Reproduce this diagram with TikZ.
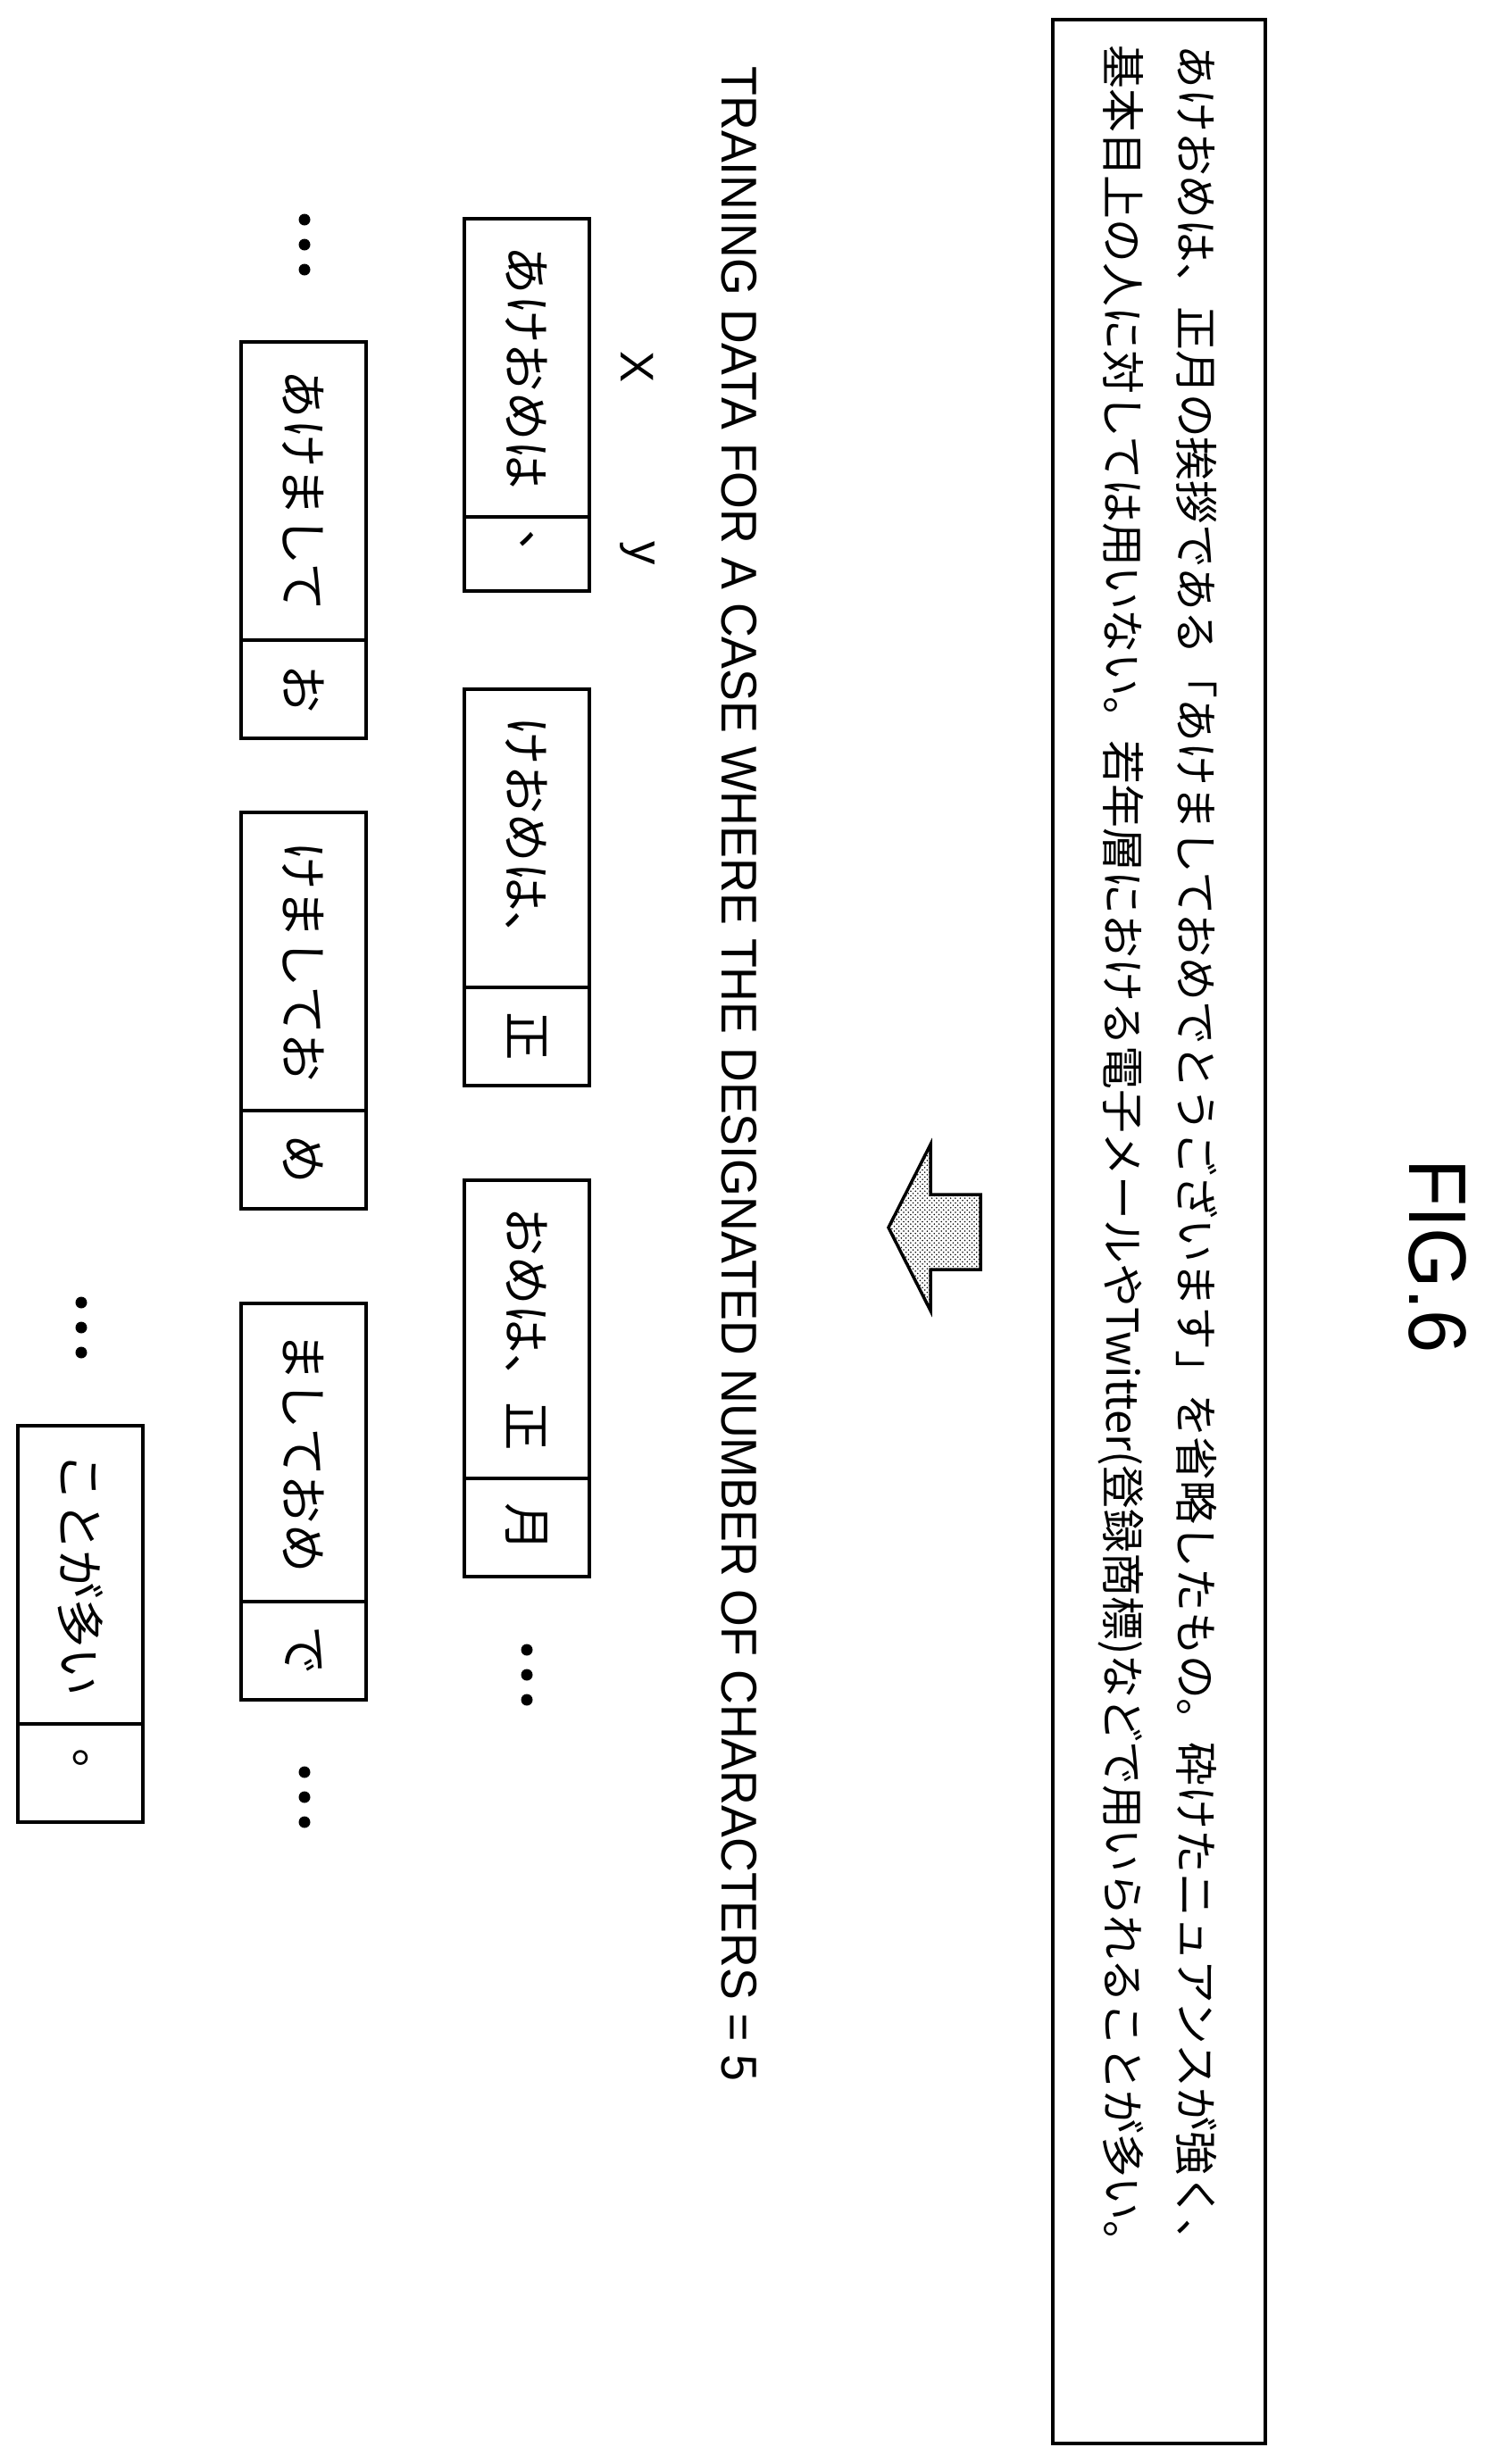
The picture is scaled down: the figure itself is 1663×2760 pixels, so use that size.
\documentclass[tikz,border=0pt]{standalone}
\usepackage{fontspec}
\setmainfont{Liberation Sans}
\newfontfamily\jpfont{Noto Sans CJK JP}
\usetikzlibrary{patterns}

\tikzset{
  cellx/.style={draw, line width=2.3pt, rotate=-90, anchor=west, inner sep=0pt, outer sep=0pt,
    minimum height=2.8cm, minimum width=6.68cm, font=\jpfont\fontsize{31}{31}\selectfont},
  celly/.style={cellx, minimum width=2.2cm},
  pairlabel/.style={rotate=-90, font=\fontsize{30}{30}\selectfont}
}

\begin{document}
\begin{tikzpicture}[x=0.02cm, y=-0.02cm]
    \useasboundingbox (0,0) rectangle (1663,2760);

    % Title
    \node[rotate=-90, font=\fontsize{52}{52}\selectfont, xscale=0.95] (title) at (1610,1407) {FIG.6};

    % Source sentence
    \draw[line width=2.6pt] (1179,22) rectangle (1417,2737);
    \node[rotate=-90, anchor=west, font=\jpfont\fontsize{27.8}{27.8}\selectfont, inner sep=0pt] (line1) at (1340,50)
        {あけおめは、正月の挨拶である「あけましておめでとうございます」を省略したもの。砕けたニュアンスが強く、};
    \node[rotate=-90, anchor=west, font=\jpfont\fontsize{27.8}{27.8}\selectfont, inner sep=0pt] (line2) at (1255,50)
        {基本目上の人に対しては用いない。若年層における電子メールやTwitter(登録商標)などで用いられることが多い。};

    % Hollow arrow
    \draw[line width=2pt, pattern=crosshatch dots] (995,1375) -- (1042,1282) -- (1042,1338) -- (1098,1338)
        -- (1098,1422) -- (1042,1422) -- (1042,1468) -- cycle;

    % Caption of the training data
    \node[rotate=-90, font=\fontsize{32}{32}\selectfont, xscale=0.955] (caption) at (828,1203)
        {TRAINING DATA FOR A CASE WHERE THE DESIGNATED NUMBER OF CHARACTERS = 5};
    \node[pairlabel] (labx) at (714,411) {X};
    \node[pairlabel] (laby) at (714,620) {y};

    % First column of pairs
    \node[cellx] (p1x) at (590,245) {あけおめは};
    \node[celly, minimum width=1.66cm] (p1y) at (p1x.east) {、};
    \node[cellx] (p2x) at (590,772) {けおめは、};
    \node[celly] (p2y) at (p2x.east) {正};
    \node[cellx] (p3x) at (590,1322) {おめは、正};
    \node[celly] (p3y) at (p3x.east) {月};

    % Second column of pairs
    \node[cellx] (q1x) at (340,383) {あけまして};
    \node[celly] (q1y) at (q1x.east) {お};
    \node[cellx] (q2x) at (340,910) {けましてお};
    \node[celly] (q2y) at (q2x.east) {め};
    \node[cellx] (q3x) at (340,1460) {ましておめ};
    \node[celly] (q3y) at (q3x.east) {で};

    % Last pair
    \node[cellx] (r1x) at (90,1597) {ことが多い};
    \node[celly] (r1y) at (r1x.east) {。};

    % Ellipses
    \foreach \cx/\cy in {590/1876, 341/274, 341/2013, 91/1487}
        \foreach \d in {-28,0,28}
            \fill (\cx,\cy+\d) circle (6.5);
\end{tikzpicture}
\end{document}
